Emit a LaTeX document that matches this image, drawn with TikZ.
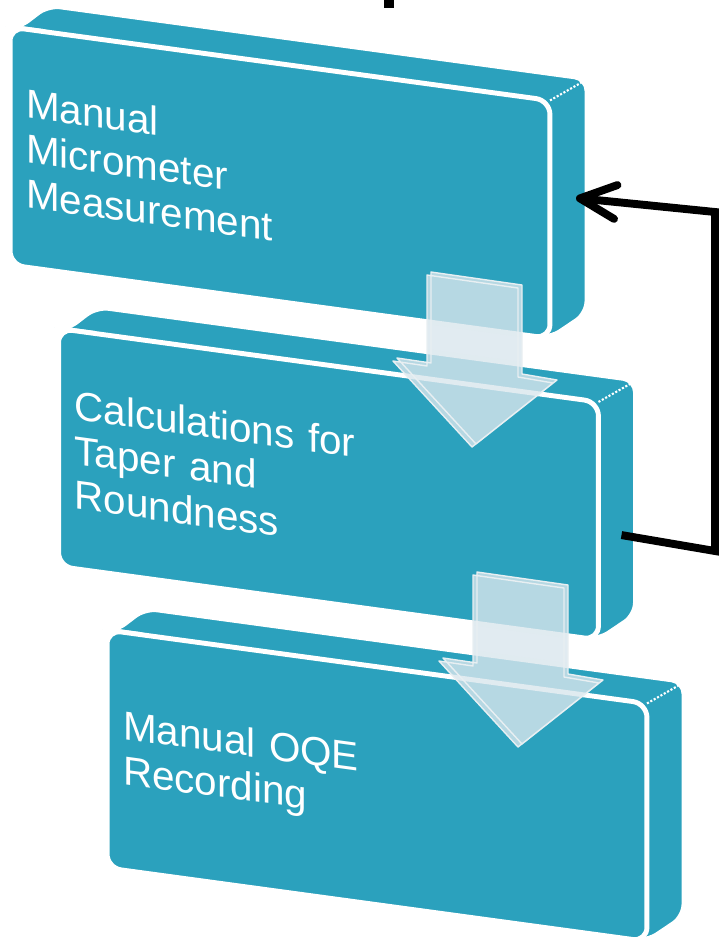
\documentclass[tikz,border=0pt]{standalone}
\usepackage{fontspec}
\setmainfont{Liberation Sans}
\usetikzlibrary{arrows.meta}

\definecolor{boxteal}{HTML}{2BA1BD}
\definecolor{arrowblue}{HTML}{D9E6ED}
\definecolor{arrowedge}{HTML}{E8EFF2}

\tikzset{
  slab/.style={fill=boxteal, draw=white, line width=2.8pt, rounded corners=7pt},
  face/.style={fill=boxteal, draw=white, line width=2.8pt, rounded corners=8pt, transform shape,
    minimum width=10.8cm, minimum height=4.76cm, text width=10.16cm,
    inner xsep=0.32cm, inner ysep=0pt, align=left, text=white,
    font=\fontsize{23}{25.5}\selectfont},
  ridge/.style={white, line width=1.2pt, densely dotted},
  flowarrow/.style={fill=arrowblue, fill opacity=0.8, draw=arrowedge, line width=0.8pt, line join=round},
  feedback/.style={line width=4.5pt, -{Straight Barb[length=0.72cm, width=0.68cm, round]}}
}

\begin{document}
\begin{tikzpicture}[x=0.02cm, y=-0.02cm]
	\useasboundingbox (0,0) rectangle (719,947);

	\fill (384,0) rectangle (394,8);

	% first step
	\begin{scope}[shift={(10,27)}, yslant=-0.136]
		\path[slab] (0,238) -- (0,0) -- (8,0) -- (38,-27) -- (577,-27) -- (577,208) -- (540,238) -- cycle;
		\draw[ridge] (540,0) -- (574,-24);
		\node[face] (meas) at (270,119) {Manual\\Micrometer\\Measurement};
		\coordinate (measIn) at (566,94);
	\end{scope}

	% second step
	\begin{scope}[shift={(58.5,328.5)}, yslant=-0.136]
		\path[slab] (0,238) -- (0,0) -- (8,0) -- (38,-27) -- (577,-27) -- (577,208) -- (540,238) -- cycle;
		\draw[ridge] (540,0) -- (574,-24);
		\node[face] (calc) at (270,119) {Calculations for\\Taper and\\Roundness};
		\coordinate (calcOut) at (563,130);
	\end{scope}

	% third step
	\begin{scope}[shift={(107,630)}, yslant=-0.136]
		\path[slab] (0,238) -- (0,0) -- (8,0) -- (38,-27) -- (577,-27) -- (577,208) -- (540,238) -- cycle;
		\draw[ridge] (540,0) -- (574,-24);
		\node[face] (oqe) at (270,119) {Manual OQE\\Recording};
	\end{scope}

	% arrows between the steps
	\begin{scope}[shift={(427,275)}]
		\path[flowarrow] (4,-3) -- (95,10) -- (95,99) -- (130,105) -- (49,169) -- (-30,83) -- (4,88) -- cycle
			(0,0) -- (91,13) -- (91,102) -- (126,108) -- (45,172) -- (-34,86) -- (0,91) -- cycle;
	\end{scope}
	\begin{scope}[shift={(473,575)}]
		\path[flowarrow] (4,-3) -- (95,10) -- (95,99) -- (130,105) -- (49,169) -- (-30,83) -- (4,88) -- cycle
			(0,0) -- (91,13) -- (91,102) -- (126,108) -- (45,172) -- (-34,86) -- (0,91) -- cycle;
	\end{scope}

	% loop back
	\coordinate (turnLow) at (715,551);
	\coordinate (turnHigh) at (715,212);
	\draw[feedback] (calcOut) -- (turnLow) -- (turnHigh) -- (measIn);
\end{tikzpicture}
\end{document}
